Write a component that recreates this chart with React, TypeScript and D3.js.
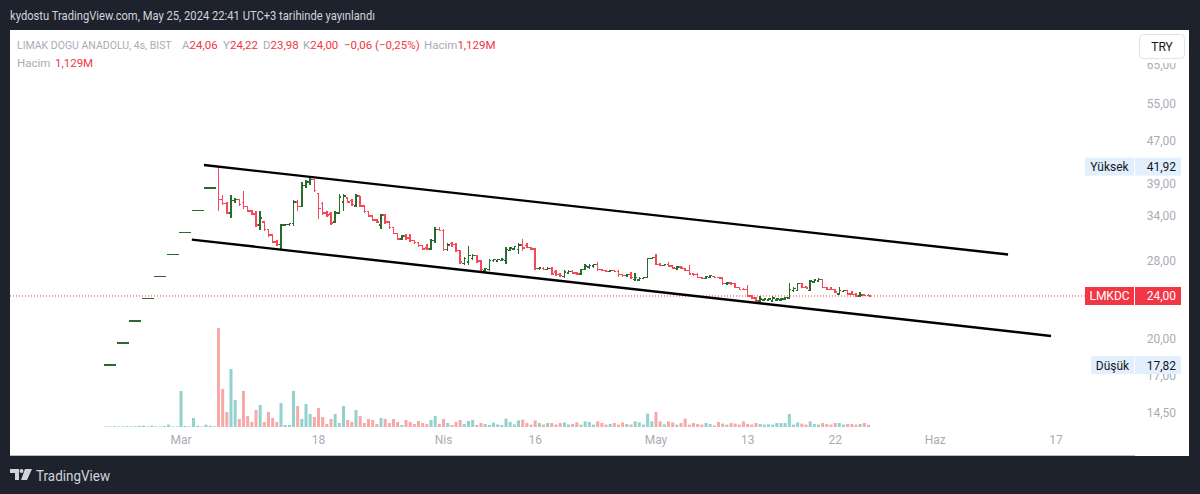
import React from "react";
import * as d3 from "d3";

// ---------- DATA ----------
// 4h OHLC bars of LMKDC (BIST), index 0 = first bar (Feb 22, 2024), 3 bars per trading day
const ohlc: [number, number, number, number][] = [
  [17.82, 17.82, 17.82, 17.82], [17.82, 17.82, 17.82, 17.82], [17.82, 17.82, 17.82, 17.82],
  [19.6, 19.6, 19.6, 19.6], [19.6, 19.6, 19.6, 19.6], [19.6, 19.6, 19.6, 19.6],
  [21.56, 21.56, 21.56, 21.56], [21.56, 21.56, 21.56, 21.56], [21.56, 21.56, 21.56, 21.56],
  [23.72, 23.72, 23.72, 23.72], [23.72, 23.72, 23.72, 23.72], [23.72, 23.72, 23.72, 23.72],
  [26.09, 26.09, 26.09, 26.09], [26.09, 26.09, 26.09, 26.09], [26.09, 26.09, 26.09, 26.09],
  [28.7, 28.7, 28.7, 28.7], [28.7, 28.7, 28.7, 28.7], [28.7, 28.7, 28.7, 28.7],
  [31.57, 31.57, 31.57, 31.57], [31.57, 31.57, 31.57, 31.57], [31.57, 31.57, 31.57, 31.57],
  [34.73, 34.73, 34.73, 34.73], [34.73, 34.73, 34.73, 34.73], [34.73, 34.73, 34.73, 34.73],
  [38.2, 38.2, 38.2, 38.2], [38.2, 38.2, 38.2, 38.2], [38.2, 38.2, 38.2, 38.2],
  [41.92, 41.92, 34.6, 36.4], [36.4, 37.1, 35.6, 35.8], [35.8, 36.0, 34.2, 34.3],
  [34.3, 37.1, 33.6, 36.2], [36.2, 36.6, 35.8, 36.4], [36.4, 36.5, 35.4, 35.6],
  [35.9, 37.8, 34.9, 35.3], [35.3, 35.4, 34.4, 34.6], [34.6, 34.8, 34.0, 34.2],
  [34.2, 34.6, 32.3, 32.6], [32.6, 34.6, 31.9, 33.6], [33.0, 33.1, 31.8, 32.0],
  [32.0, 32.1, 31.0, 31.2], [31.2, 31.3, 30.1, 30.3], [30.3, 30.5, 29.8, 30.0],
  [30.0, 32.7, 29.3, 32.6], [32.6, 32.8, 32.4, 32.7], [32.7, 32.9, 32.4, 32.8],
  [32.8, 36.3, 32.4, 36.0], [36.0, 36.3, 34.6, 35.3], [35.3, 39.3, 35.2, 38.6],
  [38.6, 39.6, 38.2, 39.2], [39.2, 40.1, 38.8, 39.7], [39.7, 39.8, 37.6, 37.8],
  [37.3, 37.4, 33.4, 35.0], [35.8, 36.0, 34.0, 34.3], [34.3, 34.6, 33.8, 34.0],
  [34.2, 34.4, 32.6, 32.9], [33.0, 34.6, 32.9, 34.3], [34.3, 37.2, 34.1, 36.8],
  [36.0, 37.2, 34.6, 36.9], [36.6, 36.8, 35.9, 36.0], [36.2, 36.4, 35.4, 35.6],
  [35.4, 37.2, 35.2, 36.9], [36.9, 37.0, 35.2, 35.4], [35.4, 35.5, 34.3, 34.5],
  [34.5, 34.6, 33.7, 33.9], [33.9, 34.0, 33.2, 33.3], [33.3, 33.4, 32.9, 33.0],
  [32.6, 34.2, 32.0, 34.0], [34.0, 34.1, 32.8, 33.0], [33.0, 33.1, 32.0, 32.2],
  [32.2, 32.3, 31.3, 31.4], [31.4, 31.5, 30.6, 30.7], [30.7, 31.2, 30.5, 31.1],
  [31.1, 31.4, 30.6, 30.8], [30.8, 31.3, 30.3, 30.5], [30.5, 30.6, 30.0, 30.2],
  [30.2, 30.3, 29.7, 29.8], [29.8, 29.9, 29.3, 29.4], [29.5, 30.0, 29.3, 29.4],
  [29.4, 30.7, 29.3, 30.5], [30.5, 32.3, 30.1, 32.0], [32.0, 32.3, 31.7, 31.8],
  [31.8, 32.0, 29.1, 29.3], [29.3, 30.1, 29.1, 29.9], [30.1, 30.3, 29.6, 30.0],
  [30.0, 30.1, 29.0, 29.2], [29.2, 29.3, 27.6, 27.8], [27.6, 28.4, 27.4, 28.2],
  [27.8, 29.8, 27.4, 28.6], [28.2, 28.8, 28.0, 28.6], [28.6, 28.6, 27.7, 27.9],
  [27.9, 28.0, 26.7, 26.9], [26.8, 27.1, 26.6, 27.0], [26.9, 28.2, 26.7, 28.0],
  [28.0, 28.2, 27.8, 28.1], [27.9, 28.2, 27.8, 28.1], [28.0, 28.3, 27.9, 28.1],
  [28.0, 29.7, 27.5, 29.3], [29.2, 29.7, 29.1, 29.5], [29.4, 29.8, 29.3, 29.7],
  [29.3, 30.2, 28.8, 29.9], [29.9, 30.7, 29.1, 29.5], [29.8, 30.2, 29.5, 29.6],
  [29.6, 29.7, 29.3, 29.4], [29.4, 29.5, 26.9, 27.0], [27.0, 27.2, 26.8, 27.1],
  [27.0, 27.2, 26.8, 26.9], [26.9, 27.2, 26.8, 27.0], [27.0, 27.2, 26.3, 26.4],
  [26.6, 26.8, 26.2, 26.3], [26.3, 26.5, 26.1, 26.2], [26.1, 26.8, 25.9, 26.6],
  [26.5, 26.8, 26.4, 26.7], [26.7, 26.8, 26.4, 26.5], [26.5, 26.6, 26.3, 26.4],
  [26.4, 27.0, 26.3, 26.9], [26.9, 27.6, 26.8, 27.3], [27.2, 27.5, 27.0, 27.4],
  [27.3, 27.6, 27.1, 27.5], [27.5, 27.8, 26.7, 26.9], [26.9, 27.0, 26.7, 26.8],
  [26.8, 26.9, 26.6, 26.7], [26.7, 26.9, 26.6, 26.8], [26.8, 26.9, 26.6, 26.7],
  [26.7, 26.8, 26.1, 26.3], [26.3, 26.4, 26.1, 26.2], [26.2, 26.4, 26.0, 26.3],
  [26.3, 26.6, 25.8, 26.0], [25.8, 26.5, 25.6, 26.0], [25.7, 26.0, 25.6, 25.9],
  [25.9, 26.1, 25.8, 26.0], [26.0, 28.3, 25.9, 28.2], [28.2, 28.3, 28.1, 28.3],
  [28.3, 28.8, 27.4, 27.5], [27.5, 27.7, 27.3, 27.4], [27.4, 27.6, 27.3, 27.5],
  [27.5, 27.8, 27.2, 27.3], [27.3, 27.4, 27.0, 27.1], [27.0, 27.3, 26.9, 27.2],
  [27.2, 27.3, 27.0, 27.1], [27.0, 27.1, 26.7, 26.8], [26.8, 27.4, 26.3, 26.4],
  [26.4, 26.5, 26.2, 26.3], [26.3, 26.5, 25.9, 26.0], [26.0, 26.1, 25.8, 25.9],
  [25.9, 26.2, 25.8, 26.1], [26.0, 26.3, 25.9, 26.2], [26.1, 26.2, 25.9, 26.0],
  [26.0, 26.1, 25.9, 25.95], [25.95, 26.0, 25.2, 25.3], [25.3, 25.5, 25.2, 25.4],
  [25.4, 25.5, 25.2, 25.3], [25.3, 25.4, 24.8, 24.9], [24.9, 25.0, 24.6, 24.7],
  [24.7, 24.8, 24.6, 24.65], [24.65, 25.2, 23.9, 24.0], [24.0, 24.1, 23.7, 23.8],
  [23.8, 23.9, 23.4, 23.5], [23.5, 24.0, 23.4, 23.7], [23.6, 23.8, 23.5, 23.7],
  [23.6, 23.8, 23.5, 23.7], [23.5, 24.0, 23.4, 23.8], [23.6, 23.8, 23.5, 23.7],
  [23.6, 23.8, 23.5, 23.7], [23.7, 23.9, 23.6, 23.85], [23.8, 25.4, 23.7, 24.7],
  [24.6, 24.9, 24.4, 24.8], [24.6, 25.4, 24.5, 25.3], [25.3, 25.35, 24.8, 24.9],
  [24.9, 25.1, 24.8, 24.85], [24.6, 25.7, 24.5, 25.6], [25.5, 25.8, 25.4, 25.7],
  [25.6, 25.9, 25.5, 25.8], [25.8, 25.85, 24.8, 24.9], [24.9, 25.0, 24.6, 24.7],
  [24.7, 24.9, 24.6, 24.65], [24.65, 24.7, 24.3, 24.4], [24.2, 25.0, 24.1, 24.6],
  [24.5, 24.6, 24.4, 24.55], [24.55, 24.6, 24.1, 24.2], [24.2, 24.5, 24.1, 24.15],
  [24.15, 24.3, 23.9, 24.0], [24.0, 24.4, 23.9, 24.1], [24.1, 24.2, 23.95, 24.05],
  [24.06, 24.22, 23.98, 24.0],
];

// Volume per bar, millions
const volumeM: number[] = [
  0.3, 0.3, 0.4, 0.3, 0.3, 0.4, 0.3, 0.4, 0.6, 0.65, 0.3, 0.65, 0.3, 0.3, 0.5, 1.2, 0.3, 0.3,
  18, 0.5, 0.3, 4.5, 0.6, 0.3, 1.2, 0.6, 0.4,
  49.5, 19, 7.5, 29, 13.5, 4, 18, 5.5, 2.5, 8.5, 11, 2.5, 7.5, 4.5, 2.5, 12, 1, 1, 18, 10.5,
  4, 11.5, 6.5, 5, 9.5, 5, 1.5, 4, 6.5, 2, 10.5, 3.5, 2.5, 8.5, 5.5, 2, 4, 3.5, 1.5, 4.5, 4,
  2, 4, 2.5, 1, 3.5, 2.5, 1.5, 3, 2, 1.5, 3.5, 5.5, 1.5, 4, 2, 1, 2.5, 3.5, 1.5, 3, 3.5, 1,
  2, 1.5, 1, 2.2, 1.3, 1.0, 4.2, 2.5, 1.3, 3.3, 3.7, 2, 1.2, 3.3, 2, 1.2, 2, 2, 1.2, 2, 2.3,
  1.2, 1.5, 2.3, 1.2, 2.8, 2.5, 1.2, 2.8, 2, 1.2, 1.5, 2, 1.2, 2.3, 1.5, 1.2, 2.8, 2.3, 1.2,
  6.7, 2.8, 7.5, 2.8, 1.3, 2.8, 2.3, 1.2, 2, 4.2, 1.2, 2, 1.5, 1.2, 2, 1.5, 0.8, 2.5, 1.7,
  1.2, 2, 1.7, 1.2, 2.8, 1.5, 1.2, 2, 1.5, 1.2, 1.3, 1.2, 2, 2, 2, 6.5, 1.2, 2.3, 1.7, 1.2,
  2.8, 1.5, 1.2, 2, 1.5, 1.2, 2, 2, 1.2, 1.5, 1.5, 1.2, 1.5, 2, 1.129,
];

const xTickLabels = ["Mar", "18", "Nis", "16", "May", "13", "22", "Haz", "17"];
const xTickBars = [18, 51, 81, 103, 132, 154, 175, 199, 228];
const priceTicks = [14.5, 17, 20, 28, 34, 39, 47, 55, 65];

// legend items: gray label + red value
const legendLabels = ["A", "Y", "D", "K", "", "Hacim"];
const legendValues = ["24,06", "24,22", "23,98", "24,00", "−0,06 (−0,25%)", "1,129M"];

// trend channel drawn on chart: [barIndex, price]
const channelUpper: [number, number][] = [[23.5, 42.2], [216.5, 28.7]];
const channelLower: [number, number][] = [[20.6, 30.6], [226.8, 20.2]];

const lastPrice = 24.0;
const highPrice = 41.92;
const lowPrice = 17.82;

// ---------- STYLE / LAYOUT ----------
const BG = "#1e222d";
const UP = "#2a6b2d";
const DOWN = "#f5495a";
const VOL_UP = "#92d2cc";
const VOL_DOWN = "#f7a9a7";
const RED = "#f23645";
const GRAY = "#a9acb5";
const FONT = "Roboto, 'Noto Sans', sans-serif";
// legend item placement (x start)
const legendItemX = [182, 223, 263, 303, 344, 424];

const fmt = (v: number) => v.toFixed(2).replace(".", ",");

export default function App() {
  const x = d3.scaleLinear().domain([0, 183]).range([106, 868.5]);
  const y = d3.scaleLog().domain([13.586, 75.53]).range([428, 30]);
  const vy = d3.scaleLinear().domain([0, 50]).range([427, 327]);
  const line = d3
    .line<[number, number]>()
    .x((d) => x(d[0]))
    .y((d) => y(d[1]));

  const tick = 2;

  const labelBox = (
    py: number,
    label: string,
    labelW: number,
    value: string,
    bg: string,
    fg: string
  ) => (
    <g>
      <rect x={1134 - labelW} y={py - 9} width={labelW} height={18} fill={bg} />
      <text
        x={1134 - labelW / 2}
        y={py + 4.5}
        textAnchor="middle"
        fontSize={12}
        fill={fg}
        fontFamily={FONT}
      >
        {label}
      </text>
      <rect x={1135} y={py - 9} width={46} height={18} fill={bg} />
      <text x={1176} y={py + 4.5} textAnchor="end" fontSize={12} fill={fg} fontFamily={FONT}>
        {value}
      </text>
    </g>
  );

  return (
    <svg
      width={1200}
      height={494}
      style={{ position: "absolute", left: 0, top: 0, display: "block" }}
    >
      <rect x={0} y={0} width={1200} height={494} fill={BG} />
      <text
        x={10}
        y={20}
        fontSize={13}
        fill="#d1d4dc"
        fontFamily={FONT}
        textLength={365}
        lengthAdjust="spacingAndGlyphs"
      >
        kydostu TradingView.com, May 25, 2024 22:41 UTC+3 tarihinde yayınlandı
      </text>

      {/* chart panel */}
      <rect x={10} y={30} width={1179} height={426} fill="#ffffff" />
      <line x1={10} x2={1135} y1={455.5} y2={455.5} stroke="#b8bbc3" strokeWidth={1} />

      {/* volume */}
      <g>
        {volumeM.map((v, i) => {
          const [o, , , c] = ohlc[i];
          return (
            <rect
              key={i}
              x={x(i) - 1.5}
              y={vy(v)}
              width={3}
              height={vy(0) - vy(v)}
              fill={c >= o ? VOL_UP : VOL_DOWN}
            />
          );
        })}
      </g>

      {/* last price dotted line */}
      <line
        x1={10}
        x2={1085}
        y1={y(lastPrice)}
        y2={y(lastPrice)}
        stroke={RED}
        strokeWidth={1}
        strokeDasharray="1 2"
      />

      {/* OHLC bars */}
      <g strokeWidth={1.4} shapeRendering="crispEdges">
        {ohlc.map(([o, h, l, c], i) => {
          const xi = x(i);
          const col = c >= o ? UP : DOWN;
          return (
            <g key={i} stroke={col}>
              {h !== l && <line x1={xi} x2={xi} y1={y(h)} y2={y(l)} />}
              <line x1={xi - tick} x2={xi} y1={y(o)} y2={y(o)} />
              <line x1={xi} x2={xi + tick} y1={y(c)} y2={y(c)} />
            </g>
          );
        })}
      </g>

      {/* channel */}
      <path d={line(channelUpper) || ""} stroke="#000" strokeWidth={2.4} fill="none" />
      <path d={line(channelLower) || ""} stroke="#000" strokeWidth={2.4} fill="none" />

      {/* price axis */}
      <g fontFamily={FONT} fontSize={12} fill={GRAY}>
        {priceTicks.map((p) => (
          <text key={p} x={1176} y={y(p) + 4.5} textAnchor="end">
            {fmt(p)}
          </text>
        ))}
      </g>
      <rect x={1134} y={30} width={55} height={33} fill="#ffffff" />
      <rect x={1139.5} y={34.5} width={45} height={24} rx={4} fill="#fff" stroke="#e0e3eb" />
      <text x={1162} y={51} textAnchor="middle" fontSize={12} fill="#131722" fontFamily={FONT}>
        TRY
      </text>

      {labelBox(y(highPrice), "Yüksek", 49, fmt(highPrice), "#e3effd", "#131722")}
      {labelBox(y(lastPrice), "LMKDC", 49, fmt(lastPrice), RED, "#ffffff")}
      {labelBox(y(lowPrice), "Düşük", 43, fmt(lowPrice), "#e3effd", "#131722")}

      {/* time axis */}
      <g fontFamily={FONT} fontSize={12} fill={GRAY}>
        {xTickLabels.map((t, k) => (
          <text key={t + k} x={x(xTickBars[k])} y={444} textAnchor="middle">
            {t}
          </text>
        ))}
      </g>

      {/* legend */}
      <g fontFamily={FONT} fontSize={11.5}>
        <text x={17} y={49} fill={GRAY} fontSize={10.5}>
          LIMAK DOGU ANADOLU, 4s, BIST
        </text>
        {legendLabels.map((lab, k) => (
          <text key={k} x={legendItemX[k]} y={49}>
            {lab && <tspan fill={GRAY}>{lab}</tspan>}
            <tspan fill={RED}>{legendValues[k]}</tspan>
          </text>
        ))}
        <text x={17} y={67} fill={GRAY}>
          Hacim
        </text>
        <text x={55} y={67} fill={RED}>
          1,129M
        </text>
      </g>

      {/* footer logo */}
      <g fill="#d1d4dc">
        <path d="M10 469 h9 v11 h-4 v-7 h-5 z" />
        <circle cx={21.5} cy={471} r={2} />
        <path d="M25 469 h7 l-5 11 h-6 z" />
        <text
          x={36}
          y={481}
          fontSize={15}
          fontFamily={FONT}
          textLength={74}
          lengthAdjust="spacingAndGlyphs"
        >
          TradingView
        </text>
      </g>
    </svg>
  );
}
